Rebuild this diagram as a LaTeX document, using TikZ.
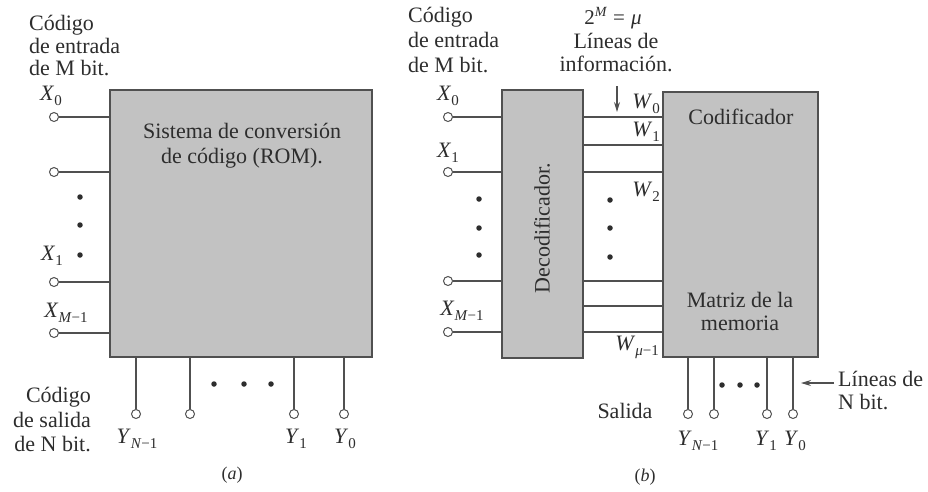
\documentclass[tikz,border=0pt]{standalone}
\usepackage{fontspec}
\setmainfont{Liberation Serif}
\usetikzlibrary{arrows.meta}
\definecolor{boxfill}{RGB}{194,194,194}
\definecolor{ink}{RGB}{45,45,45}
\definecolor{wirecol}{RGB}{80,80,80}
\newcommand{\sig}[2]{\textit{#1}\raisebox{-0.5ex}{\fontsize{15}{15}\selectfont #2}}
\newcommand{\powtext}{\fontsize{21}{21}\selectfont 2\raisebox{0.9ex}{\fontsize{14}{14}\selectfont\textit{M}}\hspace{6pt}=\hspace{6pt}\textit{μ}}
\begin{document}
\begin{tikzpicture}[x=1pt,y=-1pt, font=\fontsize{22}{24}\selectfont, text=ink,
 blk/.style={draw=wirecol, line width=2pt, fill=boxfill, inner sep=0pt},
 pin/.style={circle, draw=wirecol, fill=white, line width=1pt, minimum size=9pt, inner sep=0pt},
 wire/.style={draw=wirecol, line width=1.1pt},
 dotmark/.style={circle, fill=ink, minimum size=5.5pt, inner sep=0pt},
 lbl/.style={inner sep=0pt},
 tip/.style={-{Stealth[length=10pt,width=6pt]}},
]
\useasboundingbox (0,0) rectangle (928,491);

% ---------------- Panel (a) ----------------
\node[blk, minimum width=262pt, minimum height=267pt] (rom) at (241,223.5) {};
\node[lbl, align=center, font=\fontsize{22}{25}\selectfont] (romtxt) at (242,146) {Sistema de conversión\\de código (ROM).};

\node[pin] (a0) at (54,117) {};
\node[pin] (a1) at (54,172) {};
\node[pin] (a2) at (54,282) {};
\node[pin] (a3) at (54,333) {};
\foreach \p in {a0,a1,a2,a3} \draw[wire] (\p) -- (\p -| rom.west);

\node[dotmark] (ad1) at (80,197) {};
\node[dotmark] (ad2) at (80,225) {};
\node[dotmark] (ad3) at (80,255) {};

\node[lbl] (lxa0) at (51,96) {\sig{X}{0}};
\node[lbl] (lxa1) at (52,256) {\sig{X}{1}};
\node[lbl] (lxa3) at (66,313) {\sig{X}{\textit{M}−1}};

\node[pin] (ya0) at (136,414) {};
\node[pin] (ya1) at (190,414) {};
\node[pin] (ya2) at (294,414) {};
\node[pin] (ya3) at (344,414) {};
\foreach \p in {ya0,ya1,ya2,ya3} \draw[wire] (\p) -- (\p |- rom.south);

\node[dotmark] (bd1) at (214,384) {};
\node[dotmark] (bd2) at (244,384) {};
\node[dotmark] (bd3) at (271,384) {};

\node[lbl] (lya0) at (137,439) {\sig{Y}{\textit{N}−1}};
\node[lbl] (lya2) at (296,439) {\sig{Y}{1}};
\node[lbl] (lya3) at (345,439) {\sig{Y}{0}};

\node[lbl, anchor=north west, align=left, font=\fontsize{22}{22.5}\selectfont] (ina) at (29,15) {Código\\de entrada\\de M bit.};
\node[lbl, anchor=north east, align=right, font=\fontsize{22}{24.5}\selectfont] (outa) at (91,387) {Código\\de salida\\de N bit.};
\node[lbl, font=\fontsize{18}{18}\selectfont] (capa) at (232,475) {(\textit{a})};

% ---------------- Panel (b) ----------------
\node[blk, minimum width=81pt, minimum height=268pt] (dec) at (542.5,224) {};
\node[blk, minimum width=155pt, minimum height=265pt] (enc) at (740.5,224.5) {};
\node[lbl, rotate=90] (dectxt) at (542,228) {Decodificador.};
\node[lbl] (codtxt) at (741,117) {Codificador};
\node[lbl, align=center, font=\fontsize{22}{23}\selectfont] (memtxt) at (740,311) {Matriz de la\\memoria};

\node[pin] (b0) at (448,117) {};
\node[pin] (b1) at (448,172) {};
\node[pin] (b2) at (448,281) {};
\node[pin] (b3) at (448,332) {};
\foreach \p in {b0,b1,b2,b3} \draw[wire] (\p) -- (\p -| dec.west);

\coordinate (w1) at (620,145);
\coordinate (w4) at (620,306);
\foreach \p in {b0,w1,b1,b2,w4,b3} \draw[wire] (\p -| dec.east) -- (\p -| enc.west);

\node[dotmark] (cd1) at (479,199) {};
\node[dotmark] (cd2) at (479,228) {};
\node[dotmark] (cd3) at (479,255) {};
\node[dotmark] (md1) at (610,200) {};
\node[dotmark] (md2) at (610,228) {};
\node[dotmark] (md3) at (610,257) {};

\node[lbl] (lxb0) at (448,96) {\sig{X}{0}};
\node[lbl] (lxb1) at (448,153) {\sig{X}{1}};
\node[lbl] (lxb3) at (462,311) {\sig{X}{\textit{M}−1}};

\node[lbl] (lw0) at (646,104) {\sig{W}{0}};
\node[lbl] (lw1) at (646,132) {\sig{W}{1}};
\node[lbl] (lw2) at (646,192) {\sig{W}{2}};
\node[lbl] (lw3) at (637,347) {\sig{W}{\textit{μ}−1}};

\node[lbl, anchor=north west, align=left, font=\fontsize{22}{25}\selectfont] (inb) at (408,6.5) {Código\\de entrada\\de M bit.};
\node[lbl] (pow) at (613,18) {\powtext};
\node[lbl, anchor=north, align=center, font=\fontsize{22}{22.5}\selectfont] (info) at (616,33) {Líneas de\\información.};
\coordinate (arrtop) at (617,86);
\coordinate (arrbot) at (617,112);
\draw[wire, tip] (arrtop) -- (arrbot);

\node[pin] (yb0) at (688,414) {};
\node[pin] (yb1) at (714,414) {};
\node[pin] (yb2) at (767,414) {};
\node[pin] (yb3) at (793,414) {};
\foreach \p in {yb0,yb1,yb2,yb3} \draw[wire] (\p) -- (\p |- enc.south);

\node[dotmark] (ed1) at (722,385) {};
\node[dotmark] (ed2) at (740,385) {};
\node[dotmark] (ed3) at (757,385) {};

\node[lbl] (lyb0) at (698,441) {\sig{Y}{\textit{N}−1}};
\node[lbl] (lyb2) at (766,441) {\sig{Y}{1}};
\node[lbl] (lyb3) at (795,441) {\sig{Y}{0}};

\node[lbl, anchor=base] (salida) at (625,418) {Salida};
\node[lbl, anchor=north west, align=left, font=\fontsize{22}{23}\selectfont] (lnb) at (838,371) {Líneas de\\N bit.};
\coordinate (la) at (834,383);
\coordinate (lb) at (801,383);
\draw[wire, tip] (la) -- (lb);

\node[lbl, font=\fontsize{18}{18}\selectfont] (capb) at (645,477) {(\textit{b})};
\end{tikzpicture}
\end{document}
